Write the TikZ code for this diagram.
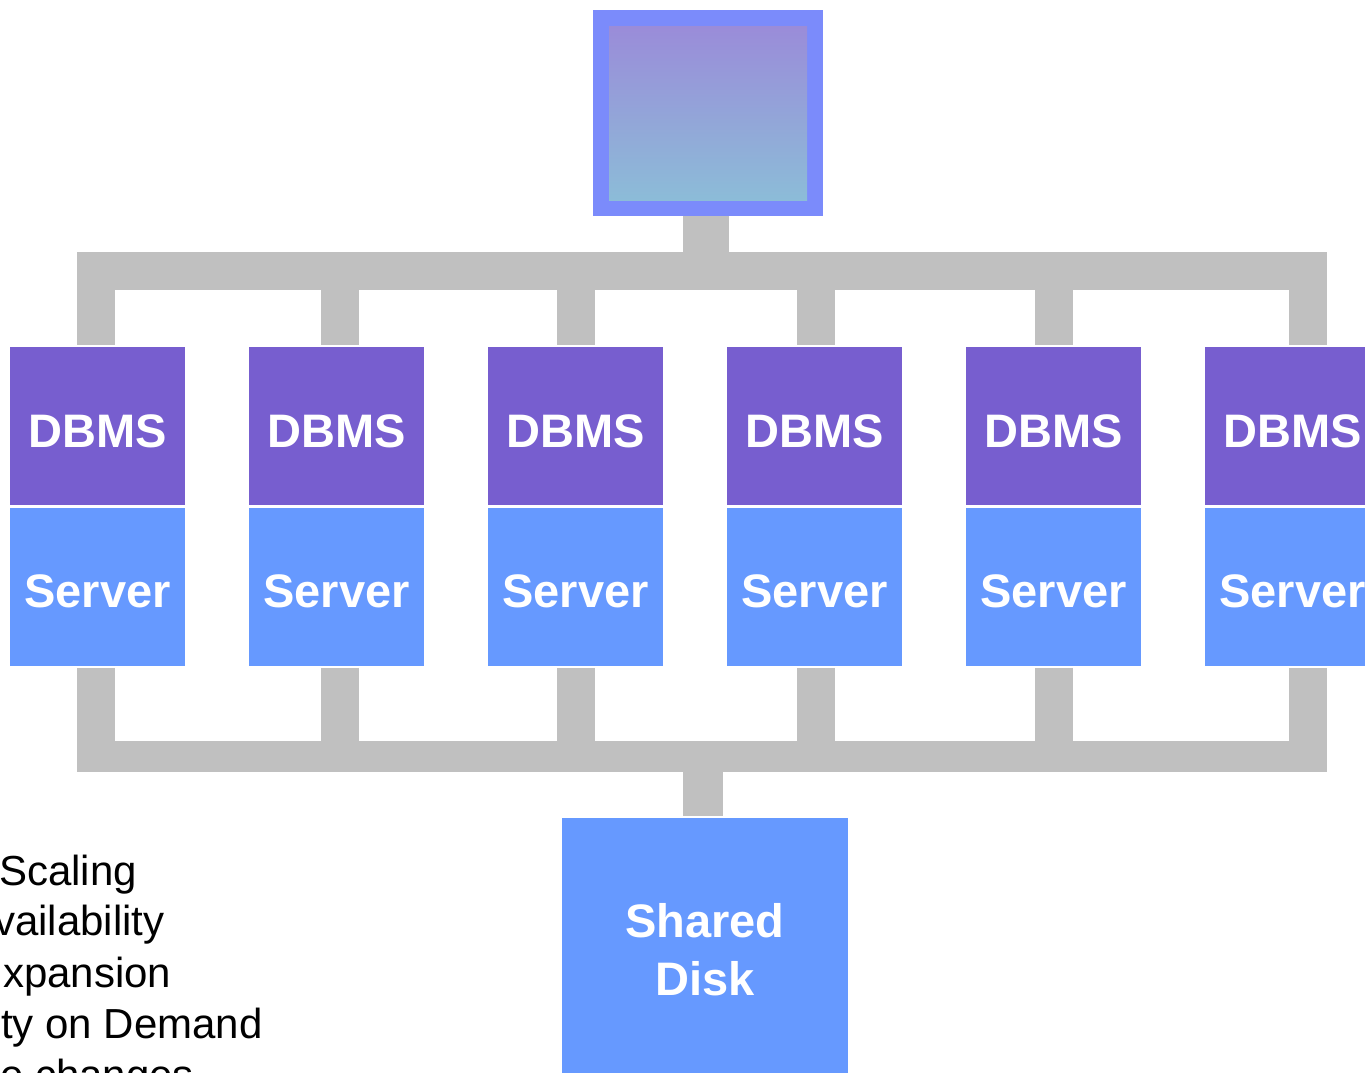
\documentclass[tikz,border=0pt]{standalone}
\usepackage{fontspec}
\setmainfont{Liberation Sans}
\usetikzlibrary{positioning,calc}
\definecolor{dbmsc}{HTML}{775ECF}
\definecolor{servc}{HTML}{6699FF}
\definecolor{busc}{HTML}{C0C0C0}
\definecolor{termc}{HTML}{7B8BFB}
\definecolor{scrtop}{HTML}{9A8CD9}
\definecolor{scrbot}{HTML}{8CBCD8}
\tikzset{
  part/.style={inner sep=0pt, minimum width=175pt, text height=100pt, text depth=58pt,
               text=white, font=\fontsize{47}{58}\selectfont\bfseries},
  dbms/.style={part, fill=dbmsc},
  srv/.style={part, fill=servc},
  bus/.style={draw=busc, line width=38pt},
  disk/.style={fill=servc, inner sep=0pt, minimum width=286pt, minimum height=262pt,
               align=center, text=white, font=\fontsize{47}{58}\selectfont\bfseries},
  note/.style={anchor=base west, inner sep=0pt, font=\fontsize{42}{51}\selectfont},
}
\begin{document}
\begin{tikzpicture}[x=1pt, y=-1pt, node distance=2pt]
  \useasboundingbox (0,0) rectangle (1365,1073);
  \clip (0,0) rectangle (1365,1073);
  \node[fill=termc, minimum width=230pt, minimum height=206pt, anchor=north] (term) at (708,10) {};
  \node[top color=scrtop, bottom color=scrbot, minimum width=198pt, minimum height=174pt] (screen) at (term.center) {};
  \foreach \i in {1,...,6} {
    \node[dbms, anchor=north] (d\i) at ({97.5+239*(\i-1)},347) {DBMS};
    \node[srv, below=of d\i] (s\i) {Server};
  }
  \node[disk, anchor=north] (disk) at (705,818) {Shared\\Disk};
  \coordinate (topbus) at (706,271);
  \coordinate (lowbus) at (703,756.5);
  \draw[bus] (77,271) -- (1327,271);
  \draw[bus, line width=31pt] (77,756.5) -- (1327,756.5);
  \draw[bus, line width=46pt] ([xshift=-2pt]term.south) -- (topbus);
  \draw[bus, line width=40pt] (lowbus) -- ([xshift=-2pt,yshift=2pt]disk.north);
  \foreach \i/\x in {1/96,2/340,3/576,4/816,5/1054,6/1308} {
    \coordinate (up\i) at (\x,271);
    \coordinate (dn\i) at (\x,756.5);
    \draw[bus] (up\i) -- ([yshift=2pt]up\i |- d\i.north);
    \draw[bus] ([yshift=-2pt]dn\i |- s\i.south) -- (dn\i);
  }
  \foreach \t/\x/\y [count=\n] in {Scaling/-1/885, vailability/-6/935, xpansion/3/987,
                                   ty on Demand/1/1038, e changes/0/1089}
    \node[note] (n\n) at (\x,\y) {\t};
\end{tikzpicture}
\end{document}
